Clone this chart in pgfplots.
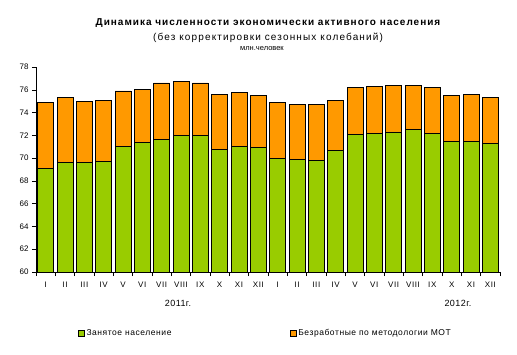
\documentclass[border=0pt]{standalone}
\usepackage{fontspec}
\setmainfont{Liberation Sans}
\usepackage{pgfplots}
\usepackage{pgfplotstable}
\pgfplotsset{compat=1.18}
\definecolor{empgreen}{HTML}{99CC00}
\definecolor{unorange}{HTML}{FF9900}
\pgfplotstableread{
x green orange
0 69.1 5.8
1 69.6 5.7
2 69.6 5.4
3 69.7 5.4
4 71.0 4.9
5 71.4 4.6
6 71.6 5.0
7 72.0 4.7
8 72.0 4.6
9 70.8 4.8
10 71.0 4.8
11 70.9 4.6
12 70.0 4.9
13 69.9 4.8
14 69.8 4.9
15 70.7 4.4
16 72.1 4.1
17 72.2 4.1
18 72.3 4.1
19 72.5 3.9
20 72.2 4.0
21 71.5 4.0
22 71.5 4.1
23 71.3 4.0
}\datatable
\begin{document}
\begin{tikzpicture}[x=1pt,y=1pt]
\path[use as bounding box] (0,0) rectangle (517,354);
\node[font=\bfseries\fontsize{10}{12}\selectfont\addfontfeatures{LetterSpace=10}] at (268,330.5) {Динамика численности экономически активного населения};
\node[font=\fontsize{10}{12}\selectfont\addfontfeatures{LetterSpace=11.5}] at (268,316.5) {(без корректировки сезонных колебаний)};
\node[font=\fontsize{7.5}{9}\selectfont] at (262,305) {млн.человек};
\node[font=\fontsize{9}{10}\selectfont\addfontfeatures{LetterSpace=5}] at (178,51) {2011г.};
\node[font=\fontsize{9}{10}\selectfont\addfontfeatures{LetterSpace=5}] at (458,51) {2012г.};
\begin{axis}[
  at={(36pt,82pt)}, anchor=south west,
  width=464pt, height=205pt, scale only axis,
  ybar stacked, bar width=16pt,
  xmin=-0.5, xmax=23.5, ymin=60, ymax=78,
  ytick={60,62,...,78},
  xtick={0,...,23},
  xticklabels={I,II,III,IV,V,VI,VII,VIII,IX,X,XI,XII,I,II,III,IV,V,VI,VII,VIII,IX,X,XI,XII},
  minor xtick={-0.5,0.5,...,23.5},
  major x tick style={draw=none},
  tick align=outside,
  major tick length=4pt, minor tick length=4pt,
  tick style={black, thin},
  axis x line*=bottom, axis y line*=left,
  axis line style={black, thin},
  yticklabel style={font=\fontsize{8}{9}\selectfont},
  xticklabel style={yshift=-2pt, font=\fontsize{8}{9}\selectfont\addfontfeatures{LetterSpace=8}},
  /pgf/number format/assume math mode=true,
  legend columns=2,
  legend style={at={(0.083,-0.30)}, anchor=west, draw=none, fill=none,
    font=\fontsize{8.5}{10}\selectfont\addfontfeatures{LetterSpace=6.5},
    /tikz/every even column/.append style={column sep=116pt}},
  legend image code/.code={\draw[#1, draw=black] (0pt,-3pt) rectangle (6pt,3pt);},
]
\addplot[fill=empgreen, draw=black, line width=0.8pt] table[x=x, y=green] {\datatable};
\addlegendentry{Занятое население}
\addplot[fill=unorange, draw=black, line width=0.8pt] table[x=x, y=orange] {\datatable};
\addlegendentry{Безработные по методологии МОТ}
\end{axis}
\end{tikzpicture}
\end{document}
